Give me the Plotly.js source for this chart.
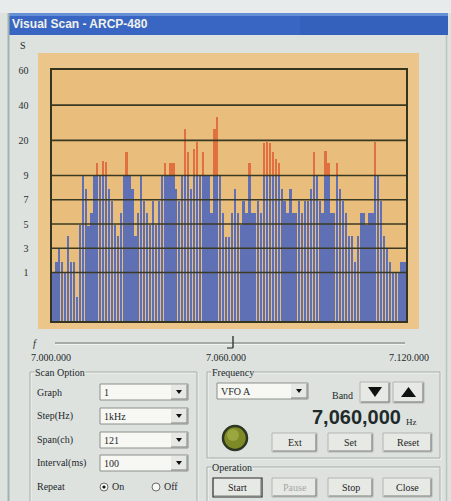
<!DOCTYPE html>
<html>
<head>
<meta charset="utf-8">
<script src="https://cdn.plot.ly/plotly-3.0.1.min.js"></script>
<style>html,body{margin:0;padding:0;background:#dde2df;}#chart{width:451px;height:501px;}</style>
</head>
<body>
<div id="chart"></div>
<script>
// ---- data (signal level per channel, in grid-step units) ----
const startHz = 7000000;
const stepHz = 1000;
const levels = [
 2.0,2.45,3.0,2.45,2.0,3.5,2.45,2.45,1.0,3.95,
 6.0,5.45,3.9,4.45,6.0,6.5,6.0,6.6,6.55,5.45,
 4.95,3.95,3.5,4.45,6.0,6.95,6.0,5.45,3.5,4.45,
 6.0,4.95,4.45,3.95,4.95,3.95,4.95,6.0,6.5,6.0,
 6.5,6.5,5.45,4.95,6.0,7.9,6.95,5.45,7.1,7.4,
 6.0,6.95,6.0,6.0,4.45,7.9,8.4,6.0,4.45,3.45,
 3.45,4.45,5.45,4.45,3.95,4.95,4.45,6.5,4.45,4.45,
 4.95,4.45,7.35,7.4,7.35,6.95,6.7,6.5,5.45,4.95,
 4.45,5.45,4.45,4.45,4.95,4.45,4.95,4.95,5.45,6.95,
 6.0,4.95,4.45,7.0,6.5,4.45,4.45,6.5,5.45,4.95,
 4.45,3.5,3.5,2.45,3.5,4.45,4.45,3.95,4.45,4.45,
 7.4,6.0,4.95,3.5,3.0,2.45,2.0,2.0,2.0,2.45,2.45
];
const s9Level = 6.0;
const tickLevels = [2, 3, 4, 5, 6, 7.45, 8.9, 10.35];
const tickLabels = ['1', '3', '5', '7', '9', '20', '40', '60'];
const freqLabels = ['7.000.000', '7.060.000', '7.120.000'];
const comboLabels = ['Graph', 'Step(Hz)', 'Span(ch)', 'Interval(ms)'];
const comboValues = ['1', '1kHz', '121', '100'];
const freqButtons = ['Ext', 'Set', 'Reset'];
const opButtons = ['Start', 'Pause', 'Stop', 'Close'];

const channels = levels.map((v, i) => (startHz + i * stepHz));
const blue = levels.map(v => Math.min(v, s9Level));
const red = levels.map(v => Math.max(v - s9Level, 0));

// ---- geometry helpers (pixel -> paper) ----
const L = 52, T = 70, W = 354, H = 251;
const X = p => (p - L) / W;
const Y = p => (T + H - p) / H;
const shapes = [], annotations = [];
const WIN = '#dde2df';
function rect(x0, y0, x1, y1, fill, lc, lw, layer) {
  shapes.push({type: 'rect', xref: 'paper', yref: 'paper', x0: X(x0), x1: X(x1), y0: Y(y1), y1: Y(y0),
    fillcolor: fill || 'rgba(0,0,0,0)', line: {color: lc || 'rgba(0,0,0,0)', width: lc ? (lw || 1) : 0}, layer: layer || 'below'});
}
function seg(x0, y0, x1, y1, c, w, layer) {
  shapes.push({type: 'line', xref: 'paper', yref: 'paper', x0: X(x0), x1: X(x1), y0: Y(y0), y1: Y(y1),
    line: {color: c, width: w || 1}, layer: layer || 'below'});
}
function circ(cx, cy, r, fill, lc, lw) {
  shapes.push({type: 'circle', xref: 'paper', yref: 'paper', x0: X(cx - r), x1: X(cx + r), y0: Y(cy + r), y1: Y(cy - r),
    fillcolor: fill, line: {color: lc || 'rgba(0,0,0,0)', width: lc ? (lw || 1) : 0}, layer: 'above'});
}
function poly(pts, fill) {
  const d = pts.map((p, i) => (i ? 'L' : 'M') + X(p[0]).toFixed(5) + ',' + Y(p[1]).toFixed(5)).join(' ') + ' Z';
  shapes.push({type: 'path', xref: 'paper', yref: 'paper', path: d, fillcolor: fill, line: {width: 0}, layer: 'above'});
}
function txt(x, y, s, o) {
  o = o || {};
  annotations.push({xref: 'paper', yref: 'paper', x: X(x), y: Y(y), text: s, showarrow: false,
    xanchor: o.xa || 'left', yanchor: 'middle', borderpad: 0,
    bgcolor: o.bg || 'rgba(0,0,0,0)',
    font: {family: o.fam || 'Liberation Serif, serif', size: o.size || 10, color: o.color || '#23282a'}});
}
function button(x0, y0, x1, y1, label, o) {
  o = o || {};
  rect(x0, y0, x1, y1, '#e7e9e5', o.dark ? '#2a2a2a' : '#b2b5b1', o.dark ? 1.2 : 1, 'above');
  seg(x0 + 1, y1 - 1, x1 - 1, y1 - 1, '#7d807c', 1.2, 'above');
  seg(x1 - 1, y0 + 1, x1 - 1, y1 - 1, '#7d807c', 1.2, 'above');
  txt((x0 + x1) / 2, (y0 + y1) / 2, label, {xa: 'center', color: o.color || '#1f2426', size: 10});
}
function combo(x0, yc, x1, label) {
  rect(x0, yc - 8, x1, yc + 8, '#f7f7f3', '#8d908c', 1, 'above');
  rect(x1 - 17, yc - 7, x1 - 1, yc + 7, '#e6e8e4', null, 0, 'above');
  seg(x1 - 1, yc - 7, x1 - 1, yc + 7, '#7d807c', 1, 'above');
  seg(x1 - 17, yc + 7, x1 - 1, yc + 7, '#7d807c', 1, 'above');
  poly([[x1 - 12, yc - 2], [x1 - 6, yc - 2], [x1 - 9, yc + 2]], '#111');
  txt(x0 + 3, yc, label, {size: 10});
}
function group(x0, y0, x1, y1, title) {
  rect(x0 + 1, y0 + 1, x1 + 1, y1 + 1, null, '#f4f6f4', 1, 'below');
  rect(x0, y0, x1, y1, null, '#a9ada9', 1, 'below');
  txt(x0 + 4, y0, title, {bg: WIN, size: 10});
}

// ---- window chrome ----
rect(0, 0, 451, 13, '#e7ebeb');
rect(8, 13, 448, 35, '#3866c2');
rect(8, 13, 448, 16, '#6690d6');
rect(300, 16, 448, 35, '#3461bc');
seg(8.5, 13, 8.5, 501, '#9db3b3', 2);
seg(446.5, 35, 446.5, 501, '#b7c6c4', 1.5);
txt(11, 24, '<b>Visual Scan - ARCP-480</b>', {fam: 'Liberation Sans, Arial, sans-serif', size: 12, color: '#f2f2ea'});

// ---- graph frame ----
rect(38, 53, 419, 329, '#ecc58a');
rect(L, T, L + W, T + H, '#e9bd7c');
txt(23, 45, 'S', {xa: 'center', size: 10});

// gridlines drawn over the bars (as in the reference)
tickLevels.slice(0, -1).forEach(v => {
  shapes.push({type: 'line', xref: 'paper', yref: 'y', x0: 0, x1: 1, y0: v, y1: v,
    line: {color: '#3a3a22', width: 1.6}, layer: 'above'});
});

// ---- slider + frequency labels ----
txt(35, 343, '<i>f</i>', {xa: 'center', size: 10});
seg(55, 343, 405, 343, '#6f7370', 1);
seg(55, 344.5, 405, 344.5, '#f2f4f2', 1);
seg(233, 336, 233, 348, '#3d4140', 1.5);
seg(227, 348, 233, 348, '#3d4140', 1.2);
txt(30, 357, freqLabels[0], {size: 10});
txt(205, 357, freqLabels[1], {size: 10});
txt(430, 357, freqLabels[2], {xa: 'right', size: 10});

// ---- Scan Option ----
group(30, 372, 197, 505, 'Scan Option');
const rowY = [392, 416, 440, 463];
comboLabels.forEach((lab, i) => {
  txt(36, rowY[i], lab, {size: 10});
  combo(100, rowY[i], 188, comboValues[i]);
});
txt(36, 487, 'Repeat', {size: 10});
circ(104, 487, 4, '#f8f8f6', '#6a6d6a', 1);
circ(104, 487, 1.6, '#111');
txt(111, 487, 'On', {size: 10});
circ(156, 487, 4, '#f8f8f6', '#6a6d6a', 1);
txt(163, 487, 'Off', {size: 10});

// ---- Frequency ----
group(207, 372, 440, 458, 'Frequency');
combo(217, 391, 308, 'VFO A');
txt(331, 395, 'Band', {size: 10});
button(360, 382, 390, 403, '');
poly([[368, 387], [382, 387], [375, 397]], '#111');
button(393, 382, 424, 403, '');
poly([[401, 397], [416, 397], [408.5, 387]], '#111');
txt(402, 417, '<b>7,060,000</b>', {xa: 'right', fam: 'Liberation Sans, Arial, sans-serif', size: 20, color: '#1f2b2b'});
txt(405, 422, 'Hz', {size: 9});
circ(235, 438, 12, '#7d8a25', '#2c3621', 2.5);
circ(233, 435, 6, '#9aa640');
const fbX = [[272, 317], [328, 373], [383, 432]];
freqButtons.forEach((b, i) => button(fbX[i][0], 433, fbX[i][1], 452, b));

// ---- Operation ----
group(207, 467, 440, 505, 'Operation');
const obX = [[213, 262], [272, 317], [328, 373], [383, 432]];
opButtons.forEach((b, i) => button(obX[i][0], 478, obX[i][1], 497, b,
  {dark: i === 0, color: i === 1 ? '#a4a8a6' : undefined}));

// ---- traces ----
const traces = [
  {type: 'bar', x: channels, y: blue, name: 'level', marker: {color: '#5f70b4', line: {width: 0}}, hoverinfo: 'skip'},
  {type: 'bar', x: channels, y: red, name: 'over S9', marker: {color: '#e0703f', line: {width: 0}}, hoverinfo: 'skip'}
];

const layout = {
  width: 451, height: 501,
  margin: {l: L, r: 451 - L - W, t: T, b: 501 - T - H, pad: 0},
  paper_bgcolor: WIN, plot_bgcolor: 'rgba(0,0,0,0)',
  barmode: 'stack', bargap: 0.22, showlegend: false,
  xaxis: {range: [startHz - stepHz / 2, startHz + (levels.length - 0.5) * stepHz], showticklabels: false, ticks: '',
    showgrid: false, zeroline: false, showline: true, mirror: true, linecolor: '#34341f', linewidth: 1.6, automargin: false, fixedrange: true},
  yaxis: {range: [0, 10.35], tickmode: 'array', tickvals: tickLevels, ticktext: tickLabels, ticks: '',
    ticklabelstandoff: 20, showgrid: false, zeroline: false, showline: true, mirror: true, linecolor: '#34341f', linewidth: 1.6,
    tickfont: {family: 'Liberation Serif, serif', size: 10, color: '#2a2e2c'}, automargin: false, fixedrange: true},
  shapes: shapes,
  annotations: annotations
};

Plotly.newPlot('chart', traces, layout, {displayModeBar: false, staticPlot: true});
</script>
</body>
</html>
